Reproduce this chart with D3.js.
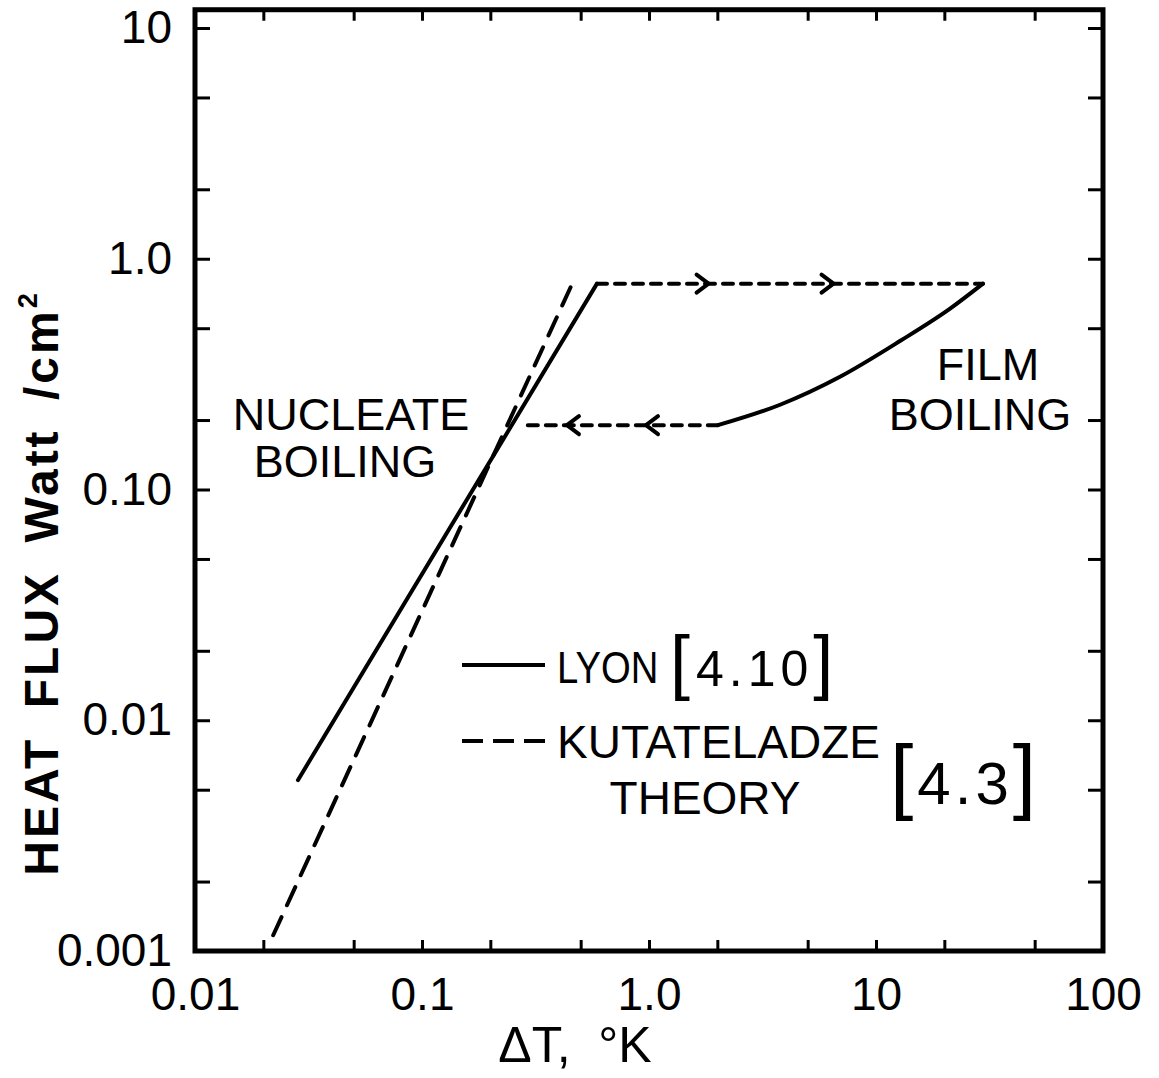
<!DOCTYPE html>
<html lang="en">
<head>
  <meta charset="UTF-8">
  <title>Heat flux vs ΔT</title>
  <script src="https://d3js.org/d3.v7.min.js"></script>
  <style>
    body { margin: 0; background: #fff; }
    svg { display: block; }
    text { font-family: "Liberation Sans", Arial, sans-serif; fill: #000; }
  </style>
</head>
<body>
  <svg width="1159" height="1078"></svg>

  <script>
    // ΔT (K) / heat flux (W/cm2)
    const lyonNucleate = [[0.0284, 0.0055], [0.59, 0.78]];
    const kutateladze = [[0.0221, 0.00117], [0.472, 0.828]];
    const transitionUp = [[0.59, 0.78], [29.6, 0.78]];
    const filmBoiling = [[2.01, 0.19], [3.78, 0.233], [6.94, 0.308], [12.8, 0.441], [21.2, 0.608], [29.6, 0.78]];
    const transitionDown = [[2.01, 0.19], [0.27, 0.19]];
    const arrowsRight = [[1.83, 0.78], [6.5, 0.78]];
    const arrowsLeft = [[0.435, 0.19], [0.97, 0.19]];

    const xLabels = [0.01, 0.1, 1, 10, 100];
    const xLabelText = [`0.01`, `0.1`, `1.0`, `10`, `100`];
    const yLabels = [0.001, 0.01, 0.1, 1, 10];
    const yLabelText = [`0.001`, `0.01`, `0.10`, `1.0`, `10`];
    const xTicks = [0.02, 0.05, 0.1, 0.2, 0.5, 1, 2, 5, 10, 20, 50];
    const yTicks = [0.002, 0.005, 0.01, 0.02, 0.05, 0.1, 0.2, 0.5, 1, 2, 5, 10];

    const plotLeft = 195, plotRight = 1103, plotBottom = 951;

    const x = d3.scaleLog().domain([0.01, 100]).range([plotLeft, plotRight]);
    const y = d3.scaleLog().domain([0.001, 10]).range([plotBottom, 28]);
    const plotTop = y(12);

    const svg = d3.select(`svg`);

    // tick marks, all pointing inward
    const tickStyle = g => {
      g.select(`.domain`).remove();
      g.selectAll(`.tick line`).attr(`stroke`, `#000`).attr(`stroke-width`, 3);
    };
    svg.append(`g`).attr(`transform`, `translate(0,${plotBottom})`)
      .call(d3.axisBottom(x).tickValues(xTicks).tickSize(-11).tickFormat(``)).call(tickStyle);
    svg.append(`g`).attr(`transform`, `translate(0,${plotTop})`)
      .call(d3.axisTop(x).tickValues(xTicks).tickSize(-11).tickFormat(``)).call(tickStyle);
    svg.append(`g`).attr(`transform`, `translate(${plotLeft},0)`)
      .call(d3.axisLeft(y).tickValues(yTicks).tickSize(-15).tickFormat(``)).call(tickStyle);
    svg.append(`g`).attr(`transform`, `translate(${plotRight},0)`)
      .call(d3.axisRight(y).tickValues(yTicks).tickSize(-15).tickFormat(``)).call(tickStyle);

    // tick labels
    const labelStyle = g => {
      g.select(`.domain`).remove();
      g.selectAll(`.tick line`).remove();
      g.selectAll(`.tick text`).attr(`font-size`, 46).attr(`font-family`, `"Liberation Sans", Arial, sans-serif`);
    };
    svg.append(`g`).attr(`transform`, `translate(0,${plotBottom})`)
      .call(d3.axisBottom(x).tickValues(xLabels).tickSize(0).tickPadding(26)
        .tickFormat((d, i) => xLabelText[i])).call(labelStyle);
    svg.append(`g`).attr(`transform`, `translate(${plotLeft},0)`)
      .call(d3.axisLeft(y).tickValues(yLabels).tickSize(0).tickPadding(23)
        .tickFormat((d, i) => yLabelText[i])).call(labelStyle);

    // frame
    svg.append(`rect`)
      .attr(`x`, plotLeft).attr(`y`, plotTop)
      .attr(`width`, plotRight - plotLeft).attr(`height`, plotBottom - plotTop)
      .attr(`fill`, `none`).attr(`stroke`, `#000`).attr(`stroke-width`, 5);

    const line = d3.line().x(d => x(d[0])).y(d => y(d[1]));
    const curve = d3.line().x(d => x(d[0])).y(d => y(d[1])).curve(d3.curveMonotoneX);

    const drawLine = (data, gen, dash) => svg.append(`path`)
      .attr(`d`, gen(data))
      .attr(`fill`, `none`)
      .attr(`stroke`, `#000`)
      .attr(`stroke-width`, 4)
      .attr(`stroke-linecap`, `round`)
      .attr(`stroke-dasharray`, dash);

    drawLine(lyonNucleate, line, null);
    drawLine(kutateladze, line, `20,13`);
    drawLine(transitionUp, line, `10,8`);
    drawLine(filmBoiling, curve, null);
    drawLine(transitionDown, line, `10,8`);

    const chevron = (data, dir) => svg.selectAll(null).data(data).enter().append(`path`)
      .attr(`transform`, d => `translate(${x(d[0])},${y(d[1])})`)
      .attr(`d`, `M${-12 * dir},-9L0,0L${-12 * dir},9`)
      .attr(`fill`, `none`)
      .attr(`stroke`, `#000`)
      .attr(`stroke-width`, 4)
      .attr(`stroke-linejoin`, `round`)
      .attr(`stroke-linecap`, `round`);
    chevron(arrowsRight, 1);
    chevron(arrowsLeft, -1);

    // region labels
    const label = (tx, ty, str, size = 45, anchor = `middle`) => svg.append(`text`)
      .attr(`x`, tx).attr(`y`, ty)
      .attr(`font-size`, size)
      .attr(`text-anchor`, anchor)
      .text(str);

    label(351, 430, `NUCLEATE`);
    label(345, 477, `BOILING`);
    label(988, 380, `FILM`);
    label(980, 430, `BOILING`);

    // legend
    svg.append(`line`).attr(`x1`, 462).attr(`x2`, 545).attr(`y1`, 665).attr(`y2`, 665)
      .attr(`stroke`, `#000`).attr(`stroke-width`, 4);
    svg.append(`line`).attr(`x1`, 462).attr(`x2`, 545).attr(`y1`, 741).attr(`y2`, 741)
      .attr(`stroke`, `#000`).attr(`stroke-width`, 4).attr(`stroke-dasharray`, `21,10`);

    svg.append(`text`)
      .attr(`transform`, `translate(557,683) scale(0.85,1)`)
      .attr(`font-size`, 45)
      .text(`LYON`);
    const ref1 = svg.append(`text`).attr(`x`, 670).attr(`y`, 686).attr(`font-size`, 50);
    ref1.append(`tspan`).attr(`font-size`, 72).text(`[`);
    ref1.append(`tspan`).attr(`dx`, 6).attr(`letter-spacing`, 5).text(`4.10`);
    ref1.append(`tspan`).attr(`font-size`, 72).text(`]`);

    label(557, 758, `KUTATELADZE`, 46, `start`);
    label(705, 814, `THEORY`, 46);
    const ref2 = svg.append(`text`).attr(`x`, 890).attr(`y`, 804).attr(`font-size`, 60);
    ref2.append(`tspan`).attr(`font-size`, 84).text(`[`);
    ref2.append(`tspan`).attr(`dx`, 4).attr(`letter-spacing`, 4).text(`4.3`);
    ref2.append(`tspan`).attr(`font-size`, 84).text(`]`);

    // axis titles
    svg.append(`text`)
      .attr(`transform`, `translate(58,583) rotate(-90)`)
      .attr(`text-anchor`, `middle`)
      .attr(`font-size`, 48)
      .attr(`font-weight`, `bold`)
      .attr(`letter-spacing`, 3)
      .attr(`word-spacing`, 12)
      .call(t => {
        t.append(`tspan`).text(`HEAT FLUX Watt /cm`);
        t.append(`tspan`).attr(`font-size`, 27).attr(`dy`, -21).text(`2`);
      });

    label(575, 1062, `ΔT,\u00a0\u00a0°K`, 50);
  </script>
</body>
</html>
